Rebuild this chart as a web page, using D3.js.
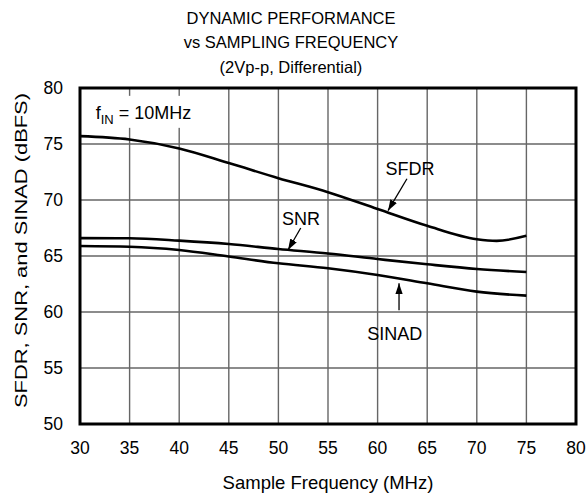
<!DOCTYPE html>
<html>
<head>
<meta charset="utf-8">
<script src="https://cdn.jsdelivr.net/npm/d3@7"></script>
<style>
  body { margin: 0; background: #fff; }
  text { font-family: "Liberation Sans", Arial, sans-serif; fill: #000; }
  .grid line { stroke: #666; stroke-width: 1.4; }
  .curve { fill: none; stroke: #000; stroke-width: 2.6; }
  .arrow { stroke: #000; stroke-width: 1.3; }
</style>
</head>
<body>
<div id="chart"></div>
<script>
// Sample frequency (MHz) and measured values (dBFS)
const freqSFDR = [30, 35, 40, 45, 50, 55, 60, 65, 70, 72, 75];
const sfdr = [75.7, 75.4, 74.6, 73.3, 71.95, 70.7, 69.2, 67.7, 66.5, 66.35, 66.8];
const freq = [30, 35, 40, 45, 50, 55, 60, 65, 70, 75];
const snr = [66.6, 66.58, 66.37, 66.07, 65.62, 65.22, 64.73, 64.26, 63.84, 63.57];
const sinad = [65.89, 65.83, 65.54, 64.95, 64.35, 63.9, 63.3, 62.56, 61.82, 61.46];

const xTicks = [30, 35, 40, 45, 50, 55, 60, 65, 70, 75, 80];
const yTicks = [50, 55, 60, 65, 70, 75, 80];
const titleLines = ["DYNAMIC PERFORMANCE", "vs SAMPLING FREQUENCY", "(2Vp-p, Differential)"];

// label anchors in data units: text position, arrow tail, arrow tip
const callouts = [
    { text: "SFDR", tx: 63.27, ty: 72.23, x1: 62.96, y1: 71.9, x2: 61.05, y2: 69.05 },
    { text: "SNR", tx: 52.28, ty: 67.77, x1: 52.25, y1: 67.5, x2: 50.97, y2: 65.54 },
    { text: "SINAD", tx: 61.72, ty: 57.5, x1: 62.16, y1: 60.15, x2: 62.16, y2: 62.56 },
];

const width = 587, height = 497;
const margin = { top: 88, right: 11, bottom: 73, left: 80 };

const svg = d3.select("#chart").append("svg")
    .attr("width", width)
    .attr("height", height);

const x = d3.scaleLinear().domain([30, 80]).range([margin.left, width - margin.right]);
const y = d3.scaleLinear().domain([50, 80]).range([height - margin.bottom, margin.top]);

svg.append("defs").append("marker")
    .attr("id", "head")
    .attr("viewBox", "0 0 10 10")
    .attr("refX", 10).attr("refY", 5)
    .attr("markerWidth", 11).attr("markerHeight", 11)
    .attr("markerUnits", "userSpaceOnUse")
    .attr("orient", "auto")
    .append("path")
    .attr("d", "M0,1.6 L10,5 L0,8.4 Z")
    .attr("fill", "#000");

// grid
const grid = svg.append("g").attr("class", "grid");
grid.selectAll(".v").data(xTicks.slice(1, -1)).join("line")
    .attr("x1", d => x(d)).attr("x2", d => x(d))
    .attr("y1", y(50)).attr("y2", y(80));
grid.selectAll(".h").data(yTicks.slice(1, -1)).join("line")
    .attr("x1", x(30)).attr("x2", x(80))
    .attr("y1", d => y(d)).attr("y2", d => y(d));

// f_IN note with white box over the grid
svg.append("rect")
    .attr("x", x(30.9)).attr("y", y(79.3))
    .attr("width", 112).attr("height", 32)
    .attr("fill", "#fff");
const note = svg.append("text")
    .attr("x", x(31.58)).attr("y", y(77.2))
    .attr("font-size", 18);
note.append("tspan").text("f");
note.append("tspan").attr("font-size", 13).attr("dy", 4.5).text("IN");
note.append("tspan").attr("dy", -4.5).text(" = 10MHz");

// frame
svg.append("rect")
    .attr("x", x(30)).attr("y", y(80))
    .attr("width", x(80) - x(30)).attr("height", y(50) - y(80))
    .attr("fill", "none").attr("stroke", "#000").attr("stroke-width", 3);

// curves
const line = d3.line().x(d => x(d[0])).y(d => y(d[1])).curve(d3.curveMonotoneX);
const series = [d3.zip(freqSFDR, sfdr), d3.zip(freq, snr), d3.zip(freq, sinad)];
svg.selectAll(".curve").data(series).join("path")
    .attr("class", "curve")
    .attr("d", line);

// callouts
svg.selectAll(".arrow").data(callouts).join("line")
    .attr("class", "arrow")
    .attr("x1", d => x(d.x1)).attr("y1", d => y(d.y1))
    .attr("x2", d => x(d.x2)).attr("y2", d => y(d.y2))
    .attr("marker-end", "url(#head)");
svg.selectAll(".callout").data(callouts).join("text")
    .attr("class", "callout")
    .attr("x", d => x(d.tx)).attr("y", d => y(d.ty))
    .attr("text-anchor", "middle")
    .attr("font-size", 18)
    .text(d => d.text);

// tick labels
svg.selectAll(".xt").data(xTicks).join("text")
    .attr("class", "xt")
    .attr("x", d => x(d)).attr("y", 454)
    .attr("text-anchor", "middle")
    .attr("font-size", 17.5)
    .text(d => d);
svg.selectAll(".yt").data(yTicks).join("text")
    .attr("class", "yt")
    .attr("x", 63).attr("y", d => y(d) + 6.2)
    .attr("text-anchor", "end")
    .attr("font-size", 17.5)
    .text(d => d);

// axis titles
svg.append("text")
    .attr("x", (x(30) + x(80)) / 2).attr("y", 489)
    .attr("text-anchor", "middle")
    .attr("font-size", 18.5)
    .text("Sample Frequency (MHz)");
svg.append("text")
    .attr("transform", "translate(27,250.5) rotate(-90)")
    .attr("text-anchor", "middle")
    .attr("font-size", 16)
    .attr("textLength", 315)
    .attr("lengthAdjust", "spacingAndGlyphs")
    .text("SFDR, SNR, and SINAD (dBFS)");

// title
svg.selectAll(".title").data(titleLines).join("text")
    .attr("class", "title")
    .attr("x", 291).attr("y", (d, i) => 24 + i * 24.4)
    .attr("text-anchor", "middle")
    .attr("font-size", 16.5)
    .text(d => d);
</script>
</body>
</html>
